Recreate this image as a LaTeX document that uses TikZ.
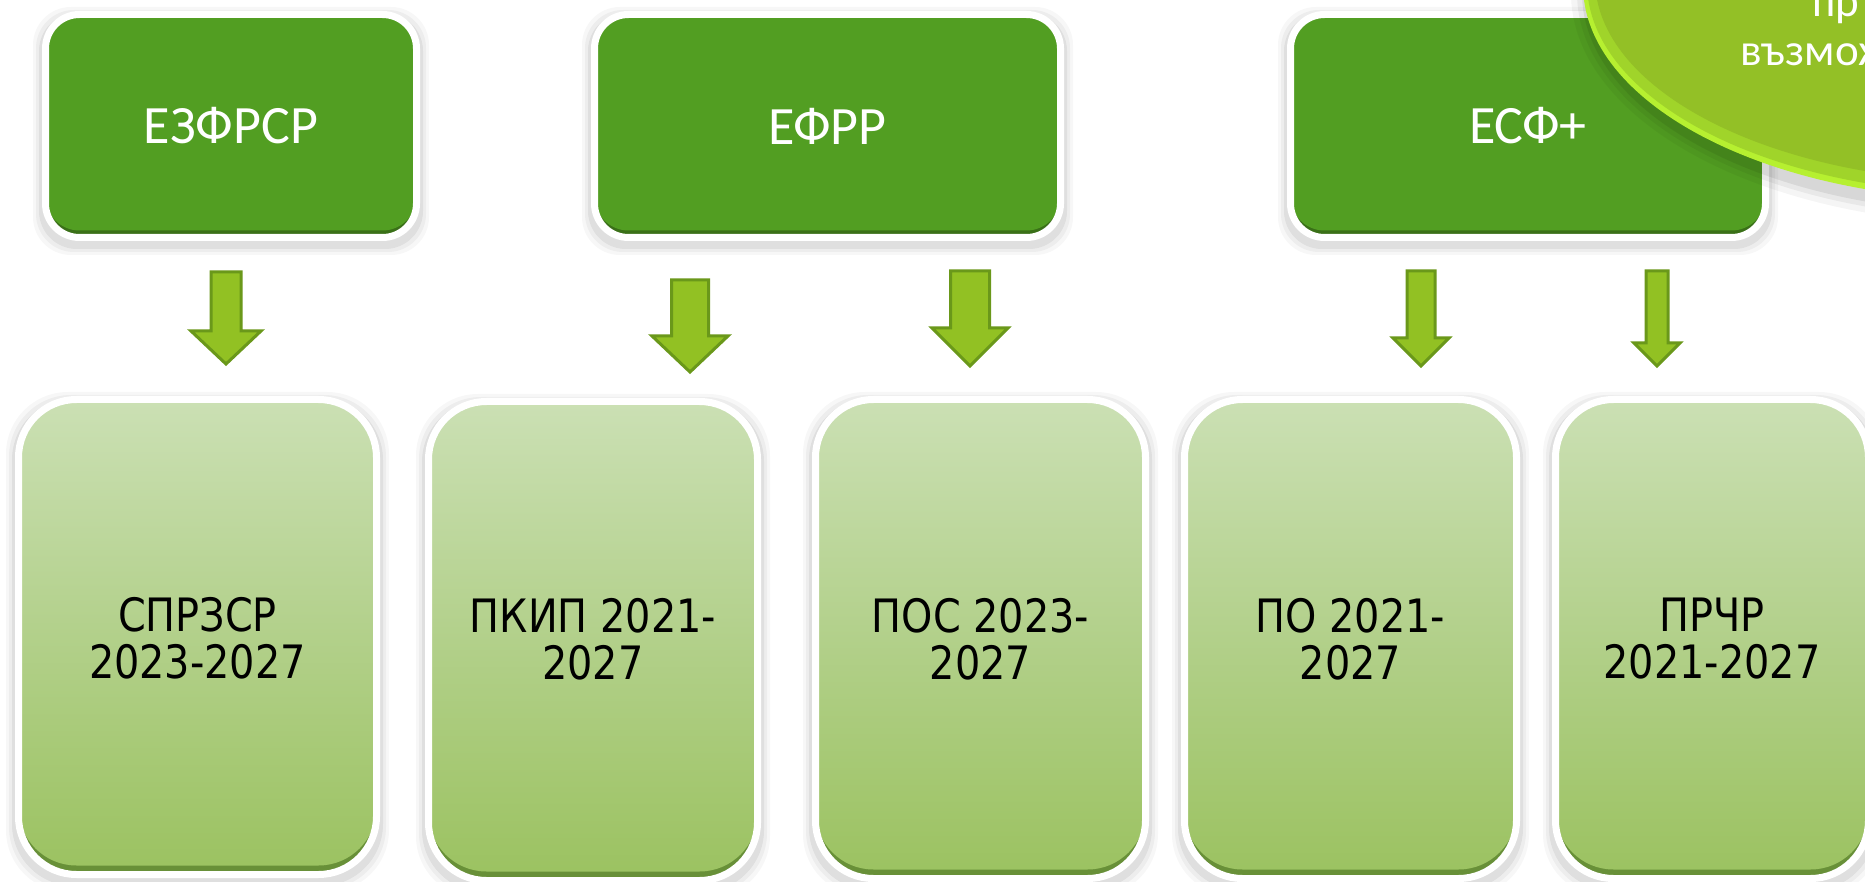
\documentclass[tikz,border=0pt]{standalone}
\usepackage{fontspec}
\newfontfamily\topfont{Carlito}
\newfontfamily\botfont[FakeStretch=0.865]{DejaVu Sans}
\definecolor{topgreen}{RGB}{82,158,34}
\definecolor{topdark}{RGB}{58,112,24}
\definecolor{botTop}{RGB}{203,224,180}
\definecolor{botMid}{RGB}{178,208,138}
\definecolor{botBot}{RGB}{155,194,96}
\definecolor{botdark}{RGB}{104,144,56}
\definecolor{arrfill}{RGB}{146,193,35}
\definecolor{arrline}{RGB}{106,152,26}
\definecolor{ellmain}{RGB}{147,192,38}
\definecolor{ellrim}{RGB}{182,240,48}
\definecolor{ellmid}{RGB}{160,212,42}
\newcommand\mkshadow[5]{%
  \foreach \e/\o in {9/0.03,6/0.04,3/0.06}{
    \fill[black,opacity=\o,rounded corners=#5] (#1-#3/2-\e,#2-#4/2-\e+5) rectangle (#1+#3/2+\e,#2+#4/2+\e+5);
  }}
\newcommand\barrow[6]{%
  \filldraw[arrowst] (#1-#5,#2) -- (#1+#5,#2) -- (#1+#5,#3) -- (#1+#6,#3) -- (#1,#4) -- (#1-#6,#3) -- (#1-#5,#3) -- cycle;}
\tikzset{
  topbox/.style={draw=white, line width=3.5pt, rounded corners=17pt, fill=topdark, inner sep=0pt,
    text=white, font=\topfont\fontsize{27}{32}\selectfont, minimum height=111.5pt,
    path picture={\fill[topgreen, rounded corners=17pt] (path picture bounding box.north west) rectangle ([yshift=3.5pt]path picture bounding box.south east);}},
  botbox/.style={draw=white, line width=3.5pt, rounded corners=29pt, fill=botdark, inner sep=0pt,
    path picture={\shade[top color=botTop, bottom color=botBot, middle color=botMid, rounded corners=29pt] (path picture bounding box.north west) rectangle ([yshift=4.5pt]path picture bounding box.south east);}},
  bottext/.style={align=center, text=black, inner sep=0pt, font=\botfont\fontsize{23}{23.5}\selectfont},
  arrowst/.style={fill=arrfill, draw=arrline, line width=1.5pt, line join=miter},
  elltext/.style={text=white, font=\topfont\fontsize{22.5}{22.5}\selectfont, inner sep=0pt, anchor=base west}
}
\begin{document}
\begin{tikzpicture}[x=0.5pt,y=-0.5pt]
\fill[white] (0,0) rectangle (1865,882);
\useasboundingbox (0,0) rectangle (1865,882);

% shadows
\mkshadow{231}{126}{378}{230}{19pt}
\mkshadow{827.5}{126}{473}{230}{19pt}
\mkshadow{1528}{126}{482}{230}{19pt}
\mkshadow{197.5}{637}{365}{482}{31pt}
\mkshadow{593}{641}{336}{486}{31pt}
\mkshadow{980.5}{639}{337}{486}{31pt}
\mkshadow{1350.5}{639}{339}{486}{31pt}
\mkshadow{1712}{639}{320}{486}{31pt}

% top boxes
\node[topbox, minimum width=185.5pt] (ezf) at (231,126) {ЕЗФРСР};
\node[topbox, minimum width=233pt] (efr) at (827.5,126) {ЕФРР};
\node[topbox, minimum width=237.5pt] (esf) at (1528,126) {ЕСФ+};

% bottom boxes
\node[botbox, minimum width=179pt, minimum height=237.5pt] (b1) at (197.5,637) {};
\node[botbox, minimum width=164.5pt, minimum height=239.5pt] (b2) at (593,641) {};
\node[botbox, minimum width=165pt, minimum height=239.5pt] (b3) at (980.5,639) {};
\node[botbox, minimum width=166pt, minimum height=239.5pt] (b4) at (1350.5,639) {};
\node[botbox, minimum width=156.5pt, minimum height=239.5pt] (b5) at (1712,639) {};
\node[bottext] (b1t) at ([yshift=-0.5pt]b1.center) {СПРЗСР\\2023-2027};
\node[bottext] (b2t) at ([yshift=1pt]b2.center) {ПКИП 2021-\\2027};
\node[bottext] (b3t) at ([yshift=0pt]b3.center) {ПОС 2023-\\2027};
\node[bottext] (b4t) at ([yshift=0pt]b4.center) {ПО 2021-\\2027};
\node[bottext] (b5t) at ([yshift=0pt]b5.center) {ПРЧР\\2021-2027};

% block arrows
\barrow{226}{272}{331}{364}{15}{35}
\barrow{690}{280}{336}{372}{18.5}{38}
\barrow{970}{271}{328}{366}{19.5}{38}
\barrow{1421}{271}{338}{366}{14}{28}
\barrow{1657}{271}{343}{366}{11}{23}

% ellipse shadow
\foreach \e/\o in {16/0.04,10/0.05,5/0.07}{
  \fill[black,opacity=\o] (1999,-7) ellipse [x radius=206pt+\e*0.5pt, y radius=107.5pt+\e*0.5pt];
}
% ellipse
\fill[ellrim] (1995,-15) ellipse [x radius=206pt, y radius=107.5pt];
\fill[ellmid] (1995,-17) ellipse [x radius=204pt, y radius=105.5pt];
\fill[ellmain] (1995,-21) ellipse [x radius=200pt, y radius=101.5pt];
\node[elltext] (t1) at (1812,17) {пр};
\node[elltext] (t2) at (1740,66) {възмож};
\end{tikzpicture}
\end{document}
